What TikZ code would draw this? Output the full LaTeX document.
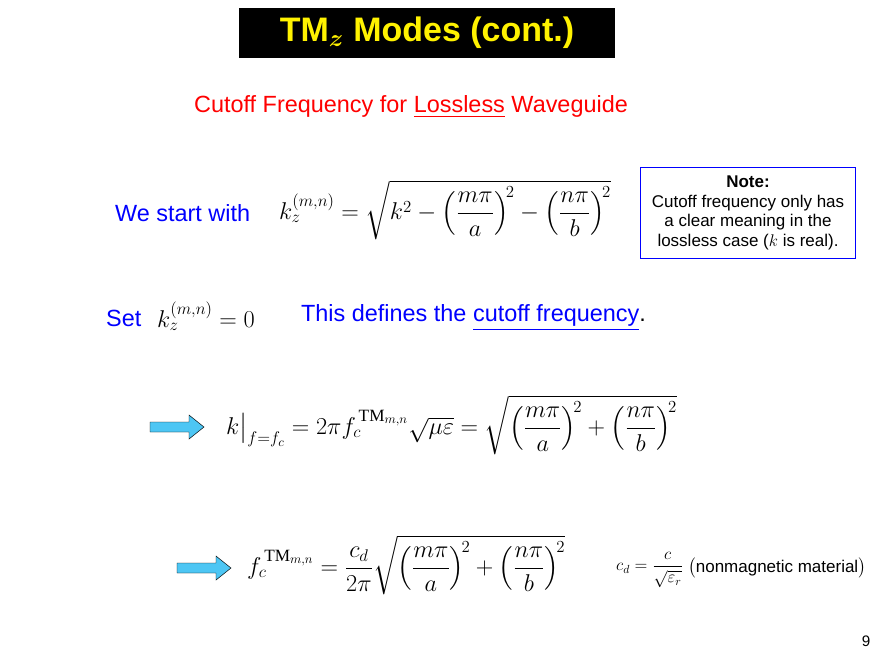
\documentclass[tikz,border=0pt]{standalone}
\usepackage{fontspec}
\usepackage{amsmath}
\setmainfont{Liberation Sans}
\newfontfamily\serifTM{Liberation Serif}
\usetikzlibrary{positioning}
\newcommand{\fs}[1]{\fontsize{#1}{1.15\dimexpr#1pt\relax}\selectfont}
\newcommand{\TMsup}{\text{\serifTM TM}}
\newcommand{\fatarrow}[1]{%
  \draw[fill=cyan!70, line join=miter] ([shift={(-27,-5)}]#1) -- ([shift={(12,-5)}]#1)
    -- ([shift={(12,-12)}]#1) -- ([shift={(27,0)}]#1) -- ([shift={(12,12)}]#1)
    -- ([shift={(12,5)}]#1) -- ([shift={(-27,5)}]#1) -- cycle;}
\tikzset{
  body/.style={font=\fs{20}, anchor=west},
  eqn/.style={font=\fs{21}}
}
\begin{document}
\begin{tikzpicture}[x=0.03cm,y=-0.03cm]
    \useasboundingbox[fill=white] (0,0) rectangle (880,660);

    % Title
    \node[fill=black, minimum width=11.25cm, minimum height=1.5cm, inner sep=0pt,
      text=yellow, font=\fs{29}\bfseries] (title) at (427,33)
      {TM$_{\boldsymbol{z}}$ Modes (cont.)};

    % Subtitle
    \node[font=\fs{20}, text=red] (sub) at (411,107)
      {Cutoff Frequency for \underline{Lossless} Waveguide};

    % Start equation
    \node[body, text=blue] (start) at (111,213) {We start with};
    \node[eqn, anchor=west] (kz) at (275,210)
      {$k_z^{(m,n)} = \sqrt{k^2 - \left(\dfrac{m\pi}{a}\right)^{\!2} - \left(\dfrac{n\pi}{b}\right)^{\!2}}$};

    % Note
    \node[draw=blue, thick, align=center, font=\fs{14.5}, minimum width=6.45cm,
      minimum height=2.75cm, inner sep=1pt] (note) at (748,213)
      {\textbf{Note:}\\Cutoff frequency only has\\a clear meaning in the\\lossless case ($k$ is real).};

    % Set
    \node[body, text=blue] (set) at (102,318) {Set};
    \node[eqn, anchor=west] (kzero) at (153,316) {$k_z^{(m,n)} = 0$};
    \node[body] (defs) at (297,318)
      {\textcolor{blue}{This defines the \underline{cutoff frequency}}.};

    % First result
    \coordinate (arr1) at (177,427);
    \fatarrow{arr1}
    \node[eqn, anchor=west] (kc) at (222,425)
      {$k\big|_{f=f_c} = 2\pi f_c^{\,\TMsup_{m,n}}\sqrt{\mu\varepsilon} =
      \sqrt{\left(\dfrac{m\pi}{a}\right)^{\!2} + \left(\dfrac{n\pi}{b}\right)^{\!2}}$};

    % Second result
    \coordinate (arr2) at (204,568);
    \fatarrow{arr2}
    \node[eqn, anchor=west] (fc) at (243,565)
      {$f_c^{\,\TMsup_{m,n}} = \dfrac{c_d}{2\pi}
      \sqrt{\left(\dfrac{m\pi}{a}\right)^{\!2} + \left(\dfrac{n\pi}{b}\right)^{\!2}}$};
    \node[font=\fs{14}, anchor=west] (cd) at (612,570)
      {$c_d = \dfrac{c}{\sqrt{\varepsilon_r}}$};
    \node[font=\fs{14.5}, anchor=west] (mat) at (684,568)
      {$\big($nonmagnetic material$\big)$};

    % Page number
    \node[font=\fs{13}] (page) at (866,641) {9};
\end{tikzpicture}
\end{document}
